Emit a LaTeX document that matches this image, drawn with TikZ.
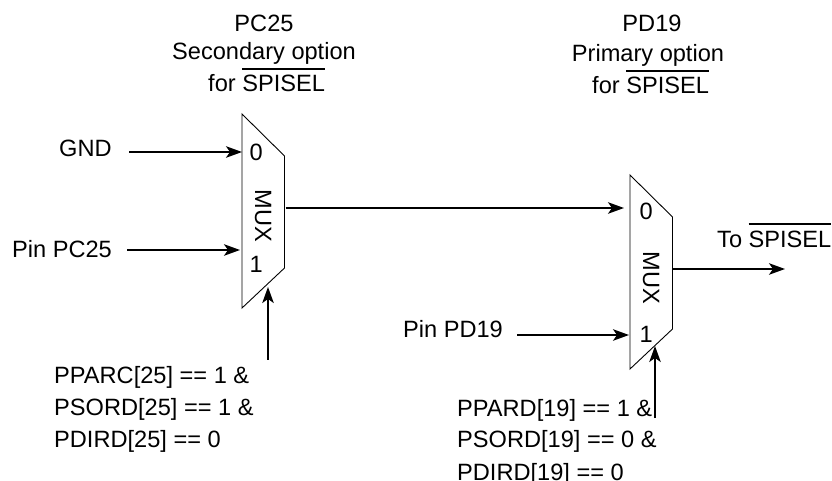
\documentclass[tikz,border=0pt]{standalone}
\usepackage{fontspec}
\setmainfont{Liberation Sans}
\usetikzlibrary{arrows.meta}
\newcommand{\ovl}[1]{\setbox0\hbox{#1}\rlap{\rule[22.2pt]{\wd0}{1.7pt}}\box0}
\tikzset{
 lbl/.style={inner sep=0pt,anchor=base west,font=\fontsize{23.6}{28}\selectfont,text=black},
 ctr/.style={lbl,anchor=base},
 muxrot/.style={lbl,anchor=base,rotate=-90},
 mux/.style={draw=black,line width=0.9pt,fill=white},
 conn/.style={-{Stealth[length=16pt,width=11.5pt,inset=4pt]},line width=1.5pt},
}
\begin{document}
\begin{tikzpicture}[x=1pt,y=-1pt]
\useasboundingbox (0,0) rectangle (832,481);
\draw[mux] (242,114) -- (284.5,156) -- (284.5,268) -- (242,308) -- cycle;
\draw[mux] (630,175) -- (672.5,217) -- (672.5,329) -- (630,369) -- cycle;
\node[ctr] (a1) at (264,32) {PC25};
\node[ctr] (a2) at (264,60) {Secondary option};
\node[lbl] (a3) at (208,92) {for \ovl{SPISEL}};
\node[ctr] (b1) at (652,32) {PD19};
\node[ctr] (b2) at (648,62) {Primary option};
\node[lbl] (b3) at (592,94) {for \ovl{SPISEL}};
\node[lbl] (gnd) at (59,157) {GND};
\node[lbl] (pc) at (12,257) {Pin PC25};
\node[lbl] (pd) at (403,337) {Pin PD19};
\node[lbl] (to) at (717,247) {To \ovl{SPISEL}};
\node[lbl] (z1) at (249.5,161) {0};
\node[lbl] (o1) at (249.5,272) {1};
\node[lbl] (z2) at (639.5,219) {0};
\node[lbl] (o2) at (639.5,342) {1};
\node[muxrot] (m1) at (255,216) {MUX};
\node[muxrot] (m2) at (643,278) {MUX};
\node[lbl] (p1) at (54,383) {PPARC[25] == 1 \&};
\node[lbl] (p2) at (54,415) {PSORD[25] == 1 \&};
\node[lbl] (p3) at (54,447) {PDIRD[25] == 0};
\node[lbl] (q1) at (457,416) {PPARD[19] == 1 \&};
\node[lbl] (q2) at (457,447) {PSORD[19] == 0 \&};
\node[lbl] (q3) at (457,480) {PDIRD[19] == 0};
\coordinate (g1) at (129,152); \coordinate (g2) at (242,152);
\coordinate (c1) at (127,250); \coordinate (c2) at (240,250);
\coordinate (s1) at (268,359.5); \coordinate (s2) at (268,287);
\coordinate (m1o) at (285.5,208); \coordinate (m2i) at (624,208);
\coordinate (d1) at (517,335); \coordinate (d2) at (629,335);
\coordinate (t1) at (655,418); \coordinate (t2) at (655,346);
\coordinate (o1a) at (673,269); \coordinate (o2a) at (785,269);
\draw[conn] (g1) -- (g2);
\draw[conn] (c1) -- (c2);
\draw[conn] (s1) -- (s2);
\draw[conn] (m1o) -- (m2i);
\draw[conn] (d1) -- (d2);
\draw[conn] (t1) -- (t2);
\draw[conn] (o1a) -- (o2a);
\end{tikzpicture}
\end{document}
